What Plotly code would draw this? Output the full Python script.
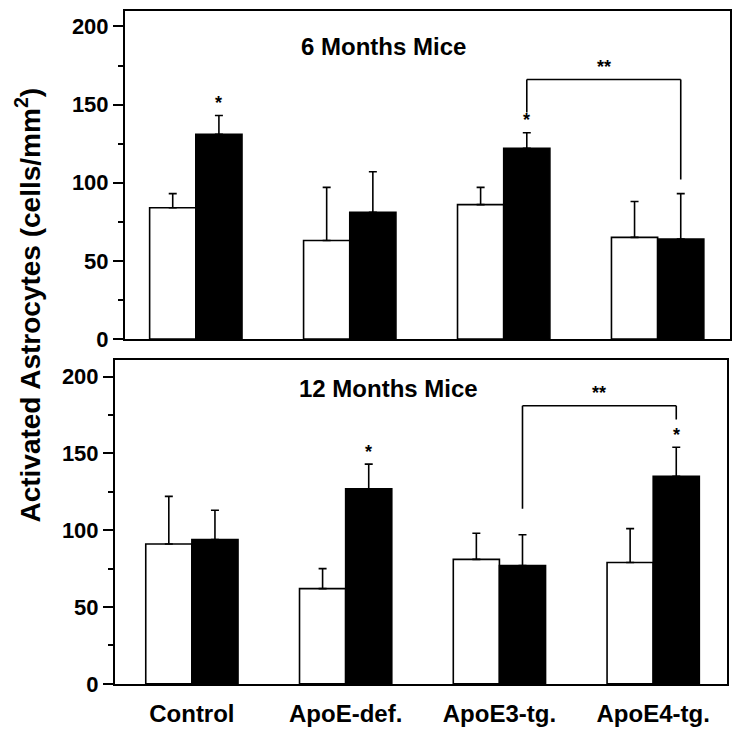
import plotly.graph_objects as go

# ---------------- data ----------------
categories = ["Control", "ApoE-def.", "ApoE3-tg.", "ApoE4-tg."]

m6_white = [84, 63, 86, 65]
m6_white_sd = [9, 34, 11, 23]
m6_black = [131, 81, 122, 64]
m6_black_sd = [12, 26, 10, 29]

m12_white = [91, 62, 81, 79]
m12_white_sd = [31, 13, 17, 22]
m12_black = [94, 127, 77, 135]
m12_black_sd = [19, 16, 20, 19]

# single-star significance on black bars
m6_black_sig = [True, False, True, False]
m12_black_sig = [False, True, False, True]

# bracket: (from category, to category, top, left leg end, right leg end)
m6_bracket = (2, 3, 166, 145, 102)
m12_bracket = (2, 3, 181, 114, 172)

y_ticks = [0, 50, 100, 150, 200]

# ---------------- style ----------------
W, H = 733, 747
BAR_W = 0.3
FONT = "Liberation Sans, Arial, Helvetica, sans-serif"
STAR_GAP = 8

xs = list(range(len(categories)))

fig = go.Figure()


def add_panel(white, white_sd, black, black_sd, xa, ya):
    fig.add_trace(go.Bar(
        x=xs, y=white, width=BAR_W, offset=-BAR_W,
        marker=dict(color="white", line=dict(color="black", width=1.6)),
        error_y=dict(type="data", array=white_sd, arrayminus=[0] * len(white),
                     symmetric=False, color="black", thickness=1.6, width=4),
        xaxis=xa, yaxis=ya, showlegend=False))
    fig.add_trace(go.Bar(
        x=xs, y=black, width=BAR_W, offset=0,
        marker=dict(color="black", line=dict(color="black", width=1.6)),
        error_y=dict(type="data", array=black_sd, arrayminus=[0] * len(black),
                     symmetric=False, color="black", thickness=1.6, width=4),
        xaxis=xa, yaxis=ya, showlegend=False))


add_panel(m6_white, m6_white_sd, m6_black, m6_black_sd, "x", "y")
add_panel(m12_white, m12_white_sd, m12_black, m12_black_sd, "x2", "y2")

annotations = []
shapes = []


def add_marks(black, black_sd, sig, bracket, xref, yref):
    for i, (v, sd, s) in enumerate(zip(black, black_sd, sig)):
        if s:
            annotations.append(dict(
                x=i + BAR_W / 2, y=v + sd + STAR_GAP, xref=xref, yref=yref,
                text="*", showarrow=False, xanchor="center", yanchor="middle",
                font=dict(family=FONT, size=18, color="black", weight="bold")))
    c0, c1, top, l_end, r_end = bracket
    x0 = c0 + BAR_W / 2
    x1 = c1 + BAR_W / 2
    line = dict(color="black", width=1.6)
    shapes.append(dict(type="line", xref=xref, yref=yref, x0=x0, x1=x0, y0=l_end, y1=top, line=line))
    shapes.append(dict(type="line", xref=xref, yref=yref, x0=x0, x1=x1, y0=top, y1=top, line=line))
    shapes.append(dict(type="line", xref=xref, yref=yref, x0=x1, x1=x1, y0=top, y1=r_end, line=line))
    annotations.append(dict(
        x=(x0 + x1) / 2, y=top + STAR_GAP, xref=xref, yref=yref,
        text="**", showarrow=False, xanchor="center", yanchor="middle",
        font=dict(family=FONT, size=18, color="black", weight="bold")))


add_marks(m6_black, m6_black_sd, m6_black_sig, m6_bracket, "x", "y")
add_marks(m12_black, m12_black_sd, m12_black_sig, m12_bracket, "x2", "y2")

# panel titles
annotations.append(dict(x=383 / W, y=1 - 47 / H, xref="paper", yref="paper",
                        text="6 Months Mice", showarrow=False,
                        xanchor="center", yanchor="middle",
                        font=dict(family=FONT, size=24, color="black", weight="bold")))
annotations.append(dict(x=388 / W, y=1 - 395 / H, xref="paper", yref="paper",
                        text="12 Months Mice", showarrow=False,
                        xanchor="center", yanchor="middle",
                        font=dict(family=FONT, size=24, color="black", weight="bold")))
# y title
annotations.append(dict(x=28 / W, y=1 - 311 / H, xref="paper", yref="paper",
                        text="Activated Astrocytes (cells/mm<sup>2</sup>)", textangle=-90,
                        showarrow=False, xanchor="center", yanchor="middle",
                        font=dict(family=FONT, size=28, color="black", weight="bold")))

tickfont = dict(family=FONT, size=22, color="black", weight="bold")
yax_common = dict(
    tickvals=y_ticks, ticks="outside", ticklen=10, tickwidth=1.6, tickcolor="black",
    minor=dict(dtick=25, ticks="outside", ticklen=5, tickwidth=1.6, tickcolor="black"),
    showline=True, linecolor="black", linewidth=2, mirror=True,
    showgrid=False, zeroline=False, tickfont=tickfont, fixedrange=True,
)

fig.update_layout(
    width=W, height=H,
    margin=dict(l=0, r=0, t=0, b=0),
    paper_bgcolor="white", plot_bgcolor="white",
    barmode="overlay",
    showlegend=False,
    xaxis=dict(domain=[125 / W, 730 / W], range=[-0.46, 3.47],
               showticklabels=False, ticks="", showline=True, linecolor="black",
               linewidth=2, mirror=True, showgrid=False, zeroline=False, anchor="y"),
    yaxis=dict(domain=[1 - 345 / H, 1 - 11 / H], range=[0, 210], anchor="x", **yax_common),
    xaxis2=dict(domain=[115 / W, 727 / W], range=[-0.5, 3.48],
                tickvals=xs, ticktext=categories, ticks="", ticklabelstandoff=7,
                tickfont=dict(family=FONT, size=24, color="black", weight="bold"),
                showline=True, linecolor="black", linewidth=2, mirror=True,
                showgrid=False, zeroline=False, anchor="y2"),
    yaxis2=dict(domain=[1 - 696 / H, 1 - 366 / H], range=[0, 211], anchor="x2", **yax_common),
    annotations=annotations,
    shapes=shapes,
)

fig.write_html("out.html")
